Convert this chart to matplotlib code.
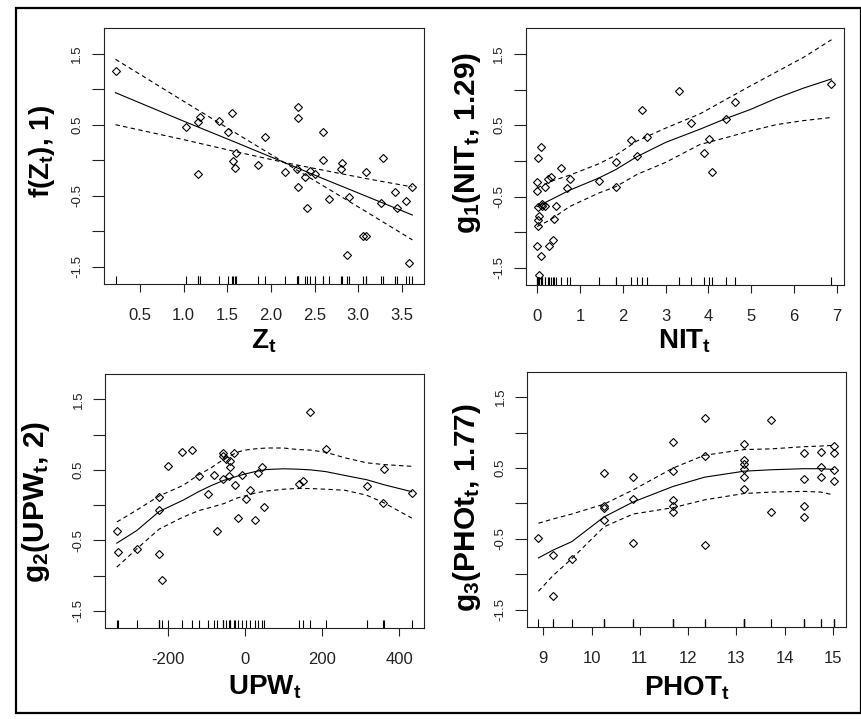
import matplotlib
matplotlib.use('Agg')
import matplotlib.pyplot as plt
from matplotlib.patches import Rectangle

plt.rcParams['font.family'] = ['Liberation Sans', 'DejaVu Sans']
plt.rcParams['mathtext.fontset'] = 'custom'
plt.rcParams['mathtext.rm'] = 'Liberation Sans:bold'
plt.rcParams['mathtext.it'] = 'Liberation Sans:bold'
plt.rcParams['mathtext.bf'] = 'Liberation Sans:bold'
plt.rcParams['mathtext.default'] = 'bf'

# ---------------- data ----------------
# Panel 1: Z_t
z_x = [0.221, 1.023, 1.164, 1.191, 1.160, 1.401, 1.553, 1.508, 1.569, 1.599, 1.584, 1.927, 1.851,
       2.156, 2.309, 2.309, 2.302, 2.305, 2.389, 2.443, 2.504, 2.412, 2.592, 2.592, 2.668, 2.817,
       2.802, 2.893, 2.866, 3.050, 3.092, 3.092, 3.279, 3.256, 3.424, 3.439, 3.546, 3.615, 3.576]
z_y = [1.256, 0.464, 0.539, 0.614, -0.192, 0.548, 0.670, 0.394, -0.005, 0.098, -0.103, 0.323, -0.066,
       -0.159, 0.745, 0.590, -0.117, -0.375, -0.230, -0.145, -0.192, -0.670, 0.394, 0.009, -0.539, -0.042,
       -0.127, -0.520, -1.327, -1.069, -1.069, -0.159, 0.028, -0.595, -0.450, -0.670, -0.577, -0.375, -1.439]
z_grid = [0.22, 1.0, 1.6, 2.15, 2.6, 3.1, 3.62]
z_fit = [0.95, 0.55, 0.25, -0.03, -0.26, -0.51, -0.77]
z_upper = [1.42, 0.83, 0.38, -0.03, -0.14, -0.26, -0.375]
z_lower = [0.50, 0.29, 0.12, -0.03, -0.36, -0.73, -1.12]

# Panel 2: NIT_t
nit_x = [0.016, 0.093, 0.008, 0.0, 0.016, 0.054, 0.031, 0.016, 0.0, 0.093, 0.054, 0.194, 0.249, 0.327,
         0.109, 0.194, 0.451, 0.404, 0.272, 0.373, 0.552, 0.762, 0.692, 1.439, 1.836, 1.836, 2.201, 2.326,
         2.458, 2.567, 3.321, 3.586, 3.889, 4.006, 4.083, 4.402, 4.628, 6.868, 0.12]
nit_y = [0.042, 0.192, -0.291, -0.417, -0.652, -0.769, -0.830, -0.914, -1.186, -1.331, -1.594, -0.361,
         -0.253, -0.230, -0.605, -0.638, -0.633, -0.816, -1.186, -1.111, -0.103, -0.248, -0.375, -0.286,
         -0.014, -0.361, 0.300, 0.066, 0.717, 0.337, 0.975, 0.534, 0.117, 0.305, -0.155, 0.591, 0.830,
         1.083, -0.63]
nit_grid = [0.0, 0.3, 0.76, 1.44, 1.84, 2.33, 3.0, 3.8, 4.43, 4.97, 5.59, 6.21, 6.87]
nit_fit = [-0.64, -0.55, -0.41, -0.24, -0.12, 0.06, 0.26, 0.445, 0.60, 0.72, 0.88, 1.02, 1.15]
nit_upper = [-0.38, -0.29, -0.20, -0.04, 0.08, 0.28, 0.46, 0.66, 0.87, 1.05, 1.25, 1.45, 1.70]
nit_lower = [-0.92, -0.83, -0.64, -0.45, -0.36, -0.19, -0.02, 0.23, 0.33, 0.42, 0.51, 0.565, 0.61]

# Panel 3: UPW_t
upw_x = [-332.3, -328.8, -280.4, -222.5, -221.6, -222.5, -215.6, -198.3, -162.0, -137.8, -119.6, -95.4,
         -79.0, -72.0, -57.4, -55.6, -48.7, -38.3, -27.1, -38.3, -55.6, -41.8, -24.5, -18.5, -8.1, 2.3,
         12.7, 26.5, 33.4, 44.7, 50.7, 139.8, 151.9, 169.1, 211.5, 316.1, 361.1, 357.6, 432.8]
upw_y = [-0.373, -0.664, -0.627, 0.120, -0.063, -0.697, -1.063, 0.556, 0.758, 0.777, 0.415, 0.157,
         0.430, -0.369, 0.739, 0.692, 0.660, 0.622, 0.739, 0.538, 0.364, 0.406, 0.284, -0.190, 0.425, 0.082,
         0.209, -0.209, 0.458, 0.542, -0.026, 0.303, 0.340, 1.322, 0.796, 0.265, 0.519, 0.026, 0.171]
upw_grid = [-332, -280, -222, -160, -120, -90, -55, -20, 0, 30, 57, 100, 135, 170, 210, 260, 316, 360, 433]
upw_fit = [-0.54, -0.36, -0.09, 0.07, 0.19, 0.27, 0.35, 0.41, 0.44, 0.48, 0.505, 0.515, 0.51, 0.50,
           0.475, 0.42, 0.36, 0.29, 0.19]
upw_upper = [-0.24, -0.07, 0.13, 0.28, 0.43, 0.52, 0.65, 0.75, 0.78, 0.80, 0.81, 0.81, 0.79, 0.78,
             0.75, 0.67, 0.60, 0.575, 0.55]
upw_lower = [-0.88, -0.62, -0.34, -0.17, -0.08, -0.035, 0.02, 0.10, 0.13, 0.175, 0.20, 0.225, 0.235,
             0.235, 0.225, 0.21, 0.14, 0.035, -0.185]

# Panel 4: PHOT_t
phot_x = [8.896, 9.200, 9.200, 9.587, 10.257, 10.257, 10.264, 10.264, 10.857, 10.857, 10.857, 11.686,
          11.686, 11.686, 11.686, 11.686, 12.342, 12.342, 12.342, 13.157, 13.157, 13.157, 13.157, 13.157,
          13.157, 13.723, 13.723, 14.393, 14.393, 14.393, 14.393, 14.752, 14.752, 14.752, 15.014, 15.014,
          15.014, 15.014]
phot_y = [-0.488, -0.727, -1.313, -0.788, 0.427, -0.033, -0.070, -0.234, 0.370, 0.056, -0.563, 0.867,
          0.459, 0.047, -0.033, -0.127, 1.209, 0.675, -0.586, 0.844, 0.619, 0.553, 0.487, 0.366, 0.206,
          1.172, -0.122, 0.717, 0.347, -0.033, -0.197, 0.731, 0.516, 0.366, 0.811, 0.717, 0.478, 0.314]
phot_grid = [8.9, 9.2, 9.59, 10.26, 10.86, 11.69, 12.34, 13.16, 13.72, 14.39, 14.75, 15.01]
phot_fit = [-0.77, -0.66, -0.54, -0.19, 0.02, 0.24, 0.37, 0.455, 0.475, 0.49, 0.49, 0.48]
phot_upper = [-0.28, -0.22, -0.15, -0.01, 0.19, 0.50, 0.68, 0.76, 0.77, 0.80, 0.81, 0.82]
phot_lower = [-1.24, -1.02, -0.78, -0.33, -0.15, -0.06, 0.05, 0.14, 0.16, 0.17, 0.16, 0.12]

# ticks
y_ticks = [-1.5, -1.0, -0.5, 0.0, 0.5, 1.0, 1.5]
y_tick_labels = ['-1.5', '', '-0.5', '', '0.5', '', '1.5']
z_ticks = [0.5, 1.0, 1.5, 2.0, 2.5, 3.0, 3.5]
z_tick_labels = ['0.5', '1.0', '1.5', '2.0', '2.5', '3.0', '3.5']
nit_ticks = [0, 1, 2, 3, 4, 5, 6, 7]
nit_tick_labels = ['0', '1', '2', '3', '4', '5', '6', '7']
upw_ticks = [-200, 0, 200, 400]
upw_tick_labels = ['-200', '0', '200', '400']
phot_ticks = [9, 10, 11, 12, 13, 14, 15]
phot_tick_labels = ['9', '10', '11', '12', '13', '14', '15']

# ---------------- layout ----------------
fig = plt.figure(figsize=(8.62, 7.19), dpi=100)

panels = [
    dict(rect=[0.1206, 0.6050, 0.3712, 0.3561], x=z_x, y=z_y, grid=z_grid, fit=z_fit,
         up=z_upper, lo=z_lower, xlim=(0.088, 3.752), xt=z_ticks, xtl=z_tick_labels,
         xlabel='$Z_t$', ylabel='f($Z_t$), 1)', xl_y=-0.25, yl=(-0.172, 0.516), yfs=20),
    dict(rect=[0.6099, 0.6036, 0.3696, 0.3570], x=nit_x, y=nit_y, grid=nit_grid, fit=nit_fit,
         up=nit_upper, lo=nit_lower, xlim=(-0.264, 7.17), xt=nit_ticks, xtl=nit_tick_labels,
         xlabel='$NIT_t$', ylabel='$g_1$($NIT_t$, 1.29)', xl_y=-0.247, yl=(-0.159, 0.555), yfs=21.5),
    dict(rect=[0.1222, 0.1270, 0.3701, 0.3528], x=upw_x, y=upw_y, grid=upw_grid, fit=upw_fit,
         up=upw_upper, lo=upw_lower, xlim=(-361.8, 465.6), xt=upw_ticks, xtl=upw_tick_labels,
         xlabel='$UPW_t$', ylabel='$g_2$($UPW_t$, 2)', xl_y=-0.265, yl=(-0.191, 0.497), yfs=21.5),
    dict(rect=[0.6117, 0.1284, 0.3697, 0.3547], x=phot_x, y=phot_y, grid=phot_grid, fit=phot_fit,
         up=phot_upper, lo=phot_lower, xlim=(8.669, 15.27), xt=phot_ticks, xtl=phot_tick_labels,
         xlabel='$PHOT_t$', ylabel='$g_3$($PHOt_t$, 1.77)', xl_y=-0.268, yl=(-0.164, 0.467), yfs=21.5),
]

for p in panels:
    ax = fig.add_axes(p['rect'])
    ax.plot(p['x'], p['y'], linestyle='none', marker='D', ms=4.1, mfc='none',
            mec='black', mew=0.8)
    ax.plot(p['grid'], p['fit'], color='black', lw=0.8)
    ax.plot(p['grid'], p['up'], color='black', lw=0.8, linestyle=(0, (4, 3)))
    ax.plot(p['grid'], p['lo'], color='black', lw=0.8, linestyle=(0, (4, 3)))
    ax.vlines(p['x'], 0, 0.03, transform=ax.get_xaxis_transform(), color='black', lw=0.8)
    ax.set_xlim(*p['xlim'])
    ax.set_ylim(-1.74, 1.86)
    ax.set_xticks(p['xt'])
    ax.set_xticklabels(p['xtl'])
    ax.set_yticks(y_ticks)
    ax.set_yticklabels(y_tick_labels, rotation=90, va='center')
    ax.tick_params(axis='x', length=6, width=0.8, pad=11.5, labelsize=12,
                   direction='out', colors='#222222')
    ax.tick_params(axis='y', length=8.4, width=0.8, pad=6.5, labelsize=9.5,
                   direction='out', colors='#222222')
    for s in ax.spines.values():
        s.set_linewidth(0.8)
        s.set_color('#222222')
    ax.set_xlabel(p['xlabel'], fontsize=20, fontweight='bold')
    ax.xaxis.set_label_coords(0.5, p['xl_y'])
    ax.xaxis.label.set_verticalalignment('baseline')
    ax.set_ylabel(p['ylabel'], fontsize=p['yfs'], fontweight='bold')
    ax.yaxis.set_label_coords(*p['yl'])
    ax.yaxis.label.set_verticalalignment('baseline')

fig.patches.append(Rectangle((15.7 / 862, 6.3 / 719), 845.3 / 862, 704.7 / 719,
                             transform=fig.transFigure, fill=False, edgecolor='black',
                             linewidth=1.6))

fig.savefig('out.png', dpi=100)
